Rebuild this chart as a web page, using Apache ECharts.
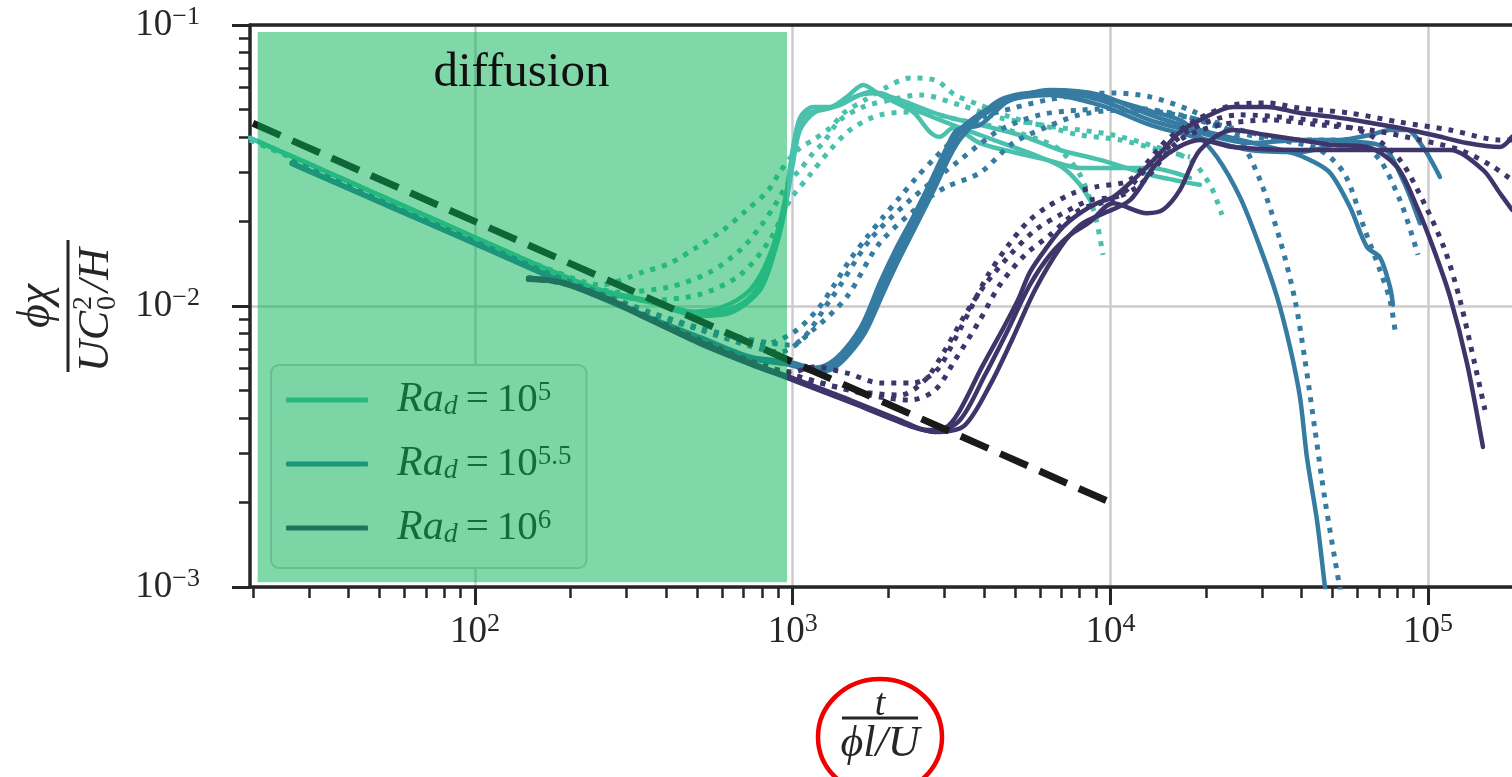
<!DOCTYPE html>
<html>
<head>
<meta charset="utf-8">
<title>diffusion</title>
<script src="https://cdn.jsdelivr.net/npm/echarts@6/dist/echarts.min.js"></script>
<style>
  html, body { margin: 0; padding: 0; background: #fff; }
  #chart { width: 1512px; height: 777px; }
</style>
</head>
<body>
<div id="chart"></div>
<script>
// axis ranges and ticks
const xRange = [19.58, 183700]
const yRange = [0.001, 0.1]
const xMajor = [100, 1000, 10000, 100000]
const xMinor = [20, 30, 40, 50, 60, 70, 80, 90, 200, 300, 400, 500, 600, 700, 800, 900,
  2000, 3000, 4000, 5000, 6000, 7000, 8000, 9000, 20000, 30000, 40000, 50000, 60000, 70000, 80000, 90000]
const yMajor = [0.001, 0.01, 0.1]
const yMinor = [0.002, 0.003, 0.004, 0.005, 0.006, 0.007, 0.008, 0.009,
  0.02, 0.03, 0.04, 0.05, 0.06, 0.07, 0.08, 0.09]

// shaded diffusion span [x0, x1, y0, y1] and its label position
const diffusionSpan = [20.7, 960, 0.00104, 0.0944]
const diffusionLabelAt = [140, 0.0675]

// reference slope line
const refLine = [[20, 0.0447], [10000, 0.002]]

// Ra_d = 10^5
const ra5SolidA = [[19.6, 0.0396], [28.1, 0.0331], [40.4, 0.0276], [58.1, 0.023], [83.4, 0.0192], [120, 0.016],
  [172, 0.0134], [247.5, 0.0114], [356, 0.0104], [511, 0.00945],
  [591, 0.00953], [718, 0.0105], [830, 0.0134], [912, 0.0194], [959, 0.0259], [1000, 0.0359], [1054, 0.0467],
  [1159, 0.0511], [1311, 0.0511], [1482, 0.0555], [1665, 0.0612], [1883, 0.0564], [2391, 0.049], [2705, 0.0416],
  [2908, 0.04], [3196, 0.043], [3886, 0.038], [4936, 0.0353], [6315, 0.0331], [8022, 0.031], [10190, 0.031],
  [13323, 0.031], [17803, 0.0286]]
const ra5SolidB = [[19.6, 0.0396], [28.1, 0.0331], [40.4, 0.0276], [58.1, 0.023], [83.4, 0.0192], [120, 0.016],
  [172, 0.0134], [247.5, 0.0113], [356, 0.0103], [511, 0.00922],
  [635, 0.00945], [789, 0.0114], [880, 0.0158], [946, 0.022], [1000, 0.0318], [1054, 0.0423], [1176, 0.049],
  [1409, 0.0519], [1751, 0.0578], [2176, 0.0541], [2908, 0.0479], [3886, 0.0441], [5193, 0.0406], [6939, 0.0359],
  [9273, 0.0331], [13323, 0.0293], [19142, 0.027]]
const ra5SolidC = [[19.6, 0.0396], [28.1, 0.0331], [40.4, 0.0276], [58.1, 0.023], [83.4, 0.0192], [120, 0.016],
  [172, 0.0134], [247.5, 0.0114], [331, 0.0106], [475, 0.00953],
  [591, 0.00984], [734, 0.0114], [848, 0.0152], [946, 0.0238], [1017, 0.039], [1093, 0.0479], [1311, 0.0506],
  [1629, 0.0564], [1883, 0.0573], [2176, 0.0528], [2908, 0.0459], [3886, 0.0406], [6003, 0.0339], [7092, 0.031],
  [8022, 0.027], [8751, 0.0232]]
const ra5DotA = [[19.6, 0.039], [28.1, 0.0328], [40.4, 0.0274], [58.1, 0.0229], [83.4, 0.0191], [120, 0.0159],
  [172, 0.0135], [247.5, 0.0119], [338, 0.0132], [411, 0.0142],
  [500, 0.0162], [603, 0.0186], [718, 0.022], [830, 0.0255], [912, 0.03], [981, 0.0336], [1054, 0.0365],
  [1159, 0.039], [1311, 0.043], [1461, 0.049], [1689, 0.0541], [1953, 0.0597], [2340, 0.0648], [2805, 0.0637],
  [3243, 0.0564], [3886, 0.0519], [4936, 0.0467], [6315, 0.0437], [8022, 0.0423], [10190, 0.0406],
  [13323, 0.0374], [17803, 0.0331], [20580, 0.027], [22450, 0.0211]]
const ra5DotB = [[19.6, 0.039], [28.1, 0.0328], [40.4, 0.0274], [58.1, 0.0229], [83.4, 0.0191], [120, 0.0159],
  [172, 0.0134], [286, 0.0112], [411, 0.0117], [549, 0.0132],
  [683, 0.0158], [789, 0.0191], [880, 0.0229], [981, 0.0281], [1054, 0.0305], [1159, 0.035], [1246, 0.038],
  [1409, 0.0459], [1665, 0.0511], [2024, 0.0541], [2516, 0.0564], [3362, 0.0519], [4492, 0.0467], [6003, 0.0441],
  [8022, 0.0406], [10720, 0.039], [14325, 0.0359], [17803, 0.0339]]
const ra5DotC = [[19.6, 0.039], [28.1, 0.0328], [40.4, 0.0274], [58.1, 0.0229], [83.4, 0.0191], [120, 0.0159],
  [172, 0.0133], [247.5, 0.0113], [356, 0.0105], [511, 0.011], [683, 0.0129],
  [848, 0.0172], [981, 0.0238], [1134, 0.0293], [1311, 0.0359], [1515, 0.0423], [1883, 0.0479], [2516, 0.049],
  [3362, 0.0459], [4492, 0.043], [6003, 0.039], [6939, 0.0359], [8022, 0.0293], [8944, 0.0211], [9477, 0.0152]]

// Ra_d = 10^5.5
const ra55SolidA = [[26.5, 0.0323], [40.4, 0.0262], [58.1, 0.0219], [83.4, 0.0183], [120, 0.0153], [172, 0.0128],
  [247.5, 0.0108], [356, 0.0091], [511, 0.00775], [735, 0.0066], [981, 0.00632],
  [1159, 0.00602], [1311, 0.00627], [1482, 0.00715], [1665, 0.0087], [1883, 0.0121], [2129, 0.0162], [2391, 0.0207],
  [2705, 0.0274], [3059, 0.0368], [3290, 0.0423], [3886, 0.0441], [4395, 0.0498], [4936, 0.055], [6315, 0.0578],
  [8022, 0.0573], [10190, 0.0541], [13037, 0.0498], [16559, 0.0459], [18195, 0.0423], [21650, 0.0339],
  [25578, 0.0244], [29567, 0.0162], [33443, 0.0108], [36748, 0.00715], [39510, 0.00474], [41565, 0.00289],
  [44689, 0.00173], [47362, 0.001], [48400, 0.00083]]
const ra55SolidB = [[26.5, 0.0323], [40.4, 0.0262], [58.1, 0.0219], [83.4, 0.0183], [120, 0.0153], [172, 0.0128],
  [247.5, 0.0108], [356, 0.009], [511, 0.0077], [735, 0.00655], [981, 0.00622],
  [1176, 0.00587], [1330, 0.00612], [1493, 0.00692], [1677, 0.00835], [1897, 0.0115], [2145, 0.0155], [2409, 0.0199],
  [2725, 0.0263], [3082, 0.0353], [3362, 0.0413], [4492, 0.0519], [6454, 0.0587], [9273, 0.0564], [13323, 0.0479],
  [19142, 0.0423], [27500, 0.0383], [37557, 0.035], [42480, 0.0331], [49105, 0.0298], [56764, 0.0225],
  [64204, 0.0162], [70549, 0.0149], [75852, 0.0117], [77521, 0.0101]]
const ra55SolidC = [[26.5, 0.032], [40.4, 0.026], [58.1, 0.0217], [83.4, 0.0182], [120, 0.0152], [172, 0.0127],
  [247.5, 0.0107], [356, 0.009], [511, 0.00768], [735, 0.0065], [981, 0.00617],
  [1193, 0.00582], [1350, 0.00602], [1515, 0.0068], [1701, 0.00815], [1925, 0.0111], [2176, 0.0149], [2444, 0.0193],
  [2765, 0.0255], [3127, 0.0342], [3411, 0.04], [4492, 0.0541], [6454, 0.0578], [9273, 0.0541], [13323, 0.0459],
  [19142, 0.0413], [27500, 0.038], [39510, 0.039], [52796, 0.039], [65617, 0.0406], [75852, 0.0423],
  [85794, 0.0423], [96346, 0.0368], [108975, 0.0288]]
const ra55SolidD = [[26.5, 0.0321], [40.4, 0.0261], [58.1, 0.0218], [83.4, 0.0182], [120, 0.0152], [172, 0.0127],
  [247.5, 0.0107], [356, 0.009], [511, 0.0077], [735, 0.00652], [981, 0.0062],
  [1170, 0.00595], [1320, 0.0062], [1490, 0.00705], [1670, 0.0086], [1890, 0.0119], [2140, 0.016], [2400, 0.0203],
  [2715, 0.027], [3070, 0.036], [3300, 0.0418], [4492, 0.0528], [6454, 0.0564], [9273, 0.0519], [13323, 0.0441],
  [19142, 0.0396], [27500, 0.0359], [39510, 0.0353], [56764, 0.0383], [72101, 0.0368], [83347, 0.0281],
  [94272, 0.0197]]
const ra55DotA = [[26.5, 0.0328], [40.4, 0.0265], [58.1, 0.022], [83.4, 0.0185], [120, 0.0155], [172, 0.013],
  [247.5, 0.0111], [356, 0.0095], [511, 0.00835], [789, 0.00727], [1000, 0.00802],
  [1193, 0.00968], [1340, 0.0117], [1515, 0.0146], [1714, 0.0176], [1925, 0.0207], [2176, 0.0244], [2462, 0.0288],
  [2765, 0.0331], [3127, 0.038], [3537, 0.0423], [3972, 0.0471], [4936, 0.0506], [6315, 0.0541], [8022, 0.0564],
  [10190, 0.0573], [13323, 0.0555], [17803, 0.0498], [22127, 0.0441], [25578, 0.039], [29567, 0.0281],
  [34179, 0.0172], [38108, 0.0105], [40972, 0.00642], [44052, 0.00362], [47362, 0.00204], [50922, 0.00125],
  [53567, 0.0009]]
const ra55DotB = [[26.5, 0.0328], [40.4, 0.0265], [58.1, 0.022], [83.4, 0.0185], [120, 0.0155], [172, 0.013],
  [247.5, 0.0111], [356, 0.0094], [511, 0.00822], [735, 0.0072], [912, 0.00686], [1159, 0.00822],
  [1482, 0.0108], [1883, 0.0168], [2705, 0.0244], [3059, 0.0266], [3886, 0.0298], [4936, 0.038], [6315, 0.0434],
  [8022, 0.0479], [10720, 0.0498], [14325, 0.049], [19142, 0.0459], [25578, 0.0423], [34179, 0.039],
  [45672, 0.0359], [54749, 0.0293], [63288, 0.0186], [70549, 0.0134], [75852, 0.0105], [78659, 0.00822]]
const ra55DotC = [[26.5, 0.0328], [40.4, 0.0265], [58.1, 0.022], [83.4, 0.0185], [120, 0.0155], [172, 0.013],
  [247.5, 0.0111], [356, 0.0093], [591, 0.00802], [981, 0.00727], [1311, 0.0105], [1751, 0.0172],
  [2340, 0.0238], [3362, 0.0331], [4492, 0.0423], [6003, 0.0479], [8022, 0.0498], [11526, 0.0506], [16559, 0.0479],
  [23790, 0.0423], [34179, 0.039], [49105, 0.039], [61030, 0.0374], [70549, 0.0331], [81553, 0.0238],
  [88962, 0.0179], [92917, 0.0152]]

// Ra_d = 10^6
const ra6SolidA = [[146.9, 0.0126], [185.2, 0.0122], [260.4, 0.0107], [356, 0.009], [511, 0.00745], [735, 0.0063],
  [1000, 0.00554], [1515, 0.00463],
  [2176, 0.00393], [2647, 0.00362], [3016, 0.00368], [3338, 0.0042], [3943, 0.00607], [4624, 0.00842],
  [5118, 0.0105], [5583, 0.0132], [6315, 0.0162], [7092, 0.0191], [8022, 0.0214], [9074, 0.0232], [10190, 0.0244],
  [11526, 0.0274], [13037, 0.0313], [14640, 0.0359], [16559, 0.0416], [19142, 0.0459], [24313, 0.0511],
  [31105, 0.0511], [39510, 0.0486], [50186, 0.0471], [64204, 0.0451], [81553, 0.043], [103587, 0.0406],
  [132523, 0.038], [168331, 0.0368], [183624, 0.04]]
const ra6SolidB = [[146.9, 0.0124], [185.2, 0.0121], [260.4, 0.0105], [356, 0.0089], [511, 0.00733], [735, 0.0062],
  [1000, 0.00545], [1515, 0.00455], [2176, 0.00387],
  [2805, 0.00356], [3362, 0.00393], [4030, 0.00568], [4760, 0.00822], [5583, 0.0119], [6454, 0.0152],
  [7461, 0.0179], [8625, 0.0199], [10190, 0.0232], [13037, 0.0214], [14640, 0.022], [16559, 0.0259],
  [19142, 0.0359], [24313, 0.0423], [31105, 0.0406], [39510, 0.039], [50186, 0.0374], [64204, 0.0368],
  [79796, 0.0313], [92241, 0.0225], [103587, 0.0162], [117166, 0.0108], [132523, 0.00627], [148823, 0.00315]]
const ra6SolidC = [[146.9, 0.0125], [185.2, 0.0121], [260.4, 0.0106], [356, 0.0089], [511, 0.00739], [735, 0.00625],
  [1000, 0.00549], [1515, 0.0046], [2340, 0.00374],
  [2908, 0.00356], [3486, 0.00377], [4178, 0.00523], [4900, 0.00757], [5790, 0.0114], [6939, 0.0161],
  [8022, 0.0194], [9273, 0.0211], [11526, 0.0238], [14325, 0.0331], [19142, 0.039], [24313, 0.0368],
  [39510, 0.0359], [81553, 0.0359], [117166, 0.0359], [148823, 0.0305], [168331, 0.0252], [183624, 0.022]]
const ra6DotA = [[146.9, 0.0126], [185.2, 0.0122], [260.4, 0.0107], [356, 0.0091], [511, 0.00757], [735, 0.0064],
  [1000, 0.00582], [1159, 0.00607], [1482, 0.00577],
  [1883, 0.00532], [2391, 0.00532], [2846, 0.00592], [3196, 0.00739], [3614, 0.00968], [4088, 0.0127],
  [4726, 0.0162], [5463, 0.0198], [6315, 0.0225], [7625, 0.0252], [9074, 0.0266], [11526, 0.0281],
  [15070, 0.039], [19142, 0.0467], [24313, 0.0519], [31105, 0.0528], [39510, 0.0506], [56764, 0.0486],
  [81553, 0.0451], [117166, 0.0423], [168331, 0.039], [183624, 0.039]]
const ra6DotB = [[146.9, 0.0125], [185.2, 0.0121], [260.4, 0.0107], [356, 0.009], [511, 0.00751], [735, 0.0063],
  [1000, 0.00568], [1515, 0.00502], [2176, 0.00482],
  [2609, 0.00545], [3016, 0.00697], [3486, 0.00929], [4030, 0.0119], [4830, 0.0152], [5790, 0.0186],
  [6939, 0.0211], [8625, 0.0238], [10720, 0.0248], [13323, 0.0318], [17803, 0.0423], [25578, 0.0479],
  [36748, 0.0467], [52796, 0.0441], [65617, 0.0406], [81553, 0.0331], [97760, 0.0229], [113007, 0.0158],
  [125972, 0.0105], [140451, 0.00617], [151007, 0.00427]]
const ra6DotC = [[146.9, 0.0125], [185.2, 0.0121], [260.4, 0.0107], [356, 0.009], [511, 0.00751], [735, 0.0063],
  [1000, 0.00568], [1751, 0.00482], [2340, 0.00463],
  [2805, 0.00502], [3243, 0.00642], [3886, 0.00892], [4492, 0.0119], [5385, 0.0152], [6454, 0.0179],
  [8022, 0.022], [9970, 0.0238], [12392, 0.027], [16559, 0.039], [22127, 0.0441], [31790, 0.0459],
  [45672, 0.0441], [65617, 0.0423], [94272, 0.039], [125972, 0.0359], [156564, 0.0318], [183624, 0.0281]]

const legendNames = ['Ra5', 'Ra55', 'Ra6']
const legendExps = { Ra5: '5', Ra55: '5.5', Ra6: '6' }
const colorMap = { Ra5: '#49c1ad', Ra55: '#357ba2', Ra6: '#3e356b' }

const serif = "'Liberation Serif', 'DejaVu Serif', serif"
const ink = '#262626'

function curve(name, data, dotted) {
  return {
    type: 'line',
    name: name,
    data: data,
    showSymbol: false,
    symbol: 'none',
    smooth: 0.3,
    silent: true,
    emphasis: { disabled: true },
    itemStyle: { color: colorMap[name] },
    lineStyle: {
      color: colorMap[name],
      width: dotted ? 5 : 4.5,
      type: dotted ? [5, 7] : 'solid',
      cap: dotted ? 'butt' : 'round'
    },
    z: 2
  }
}

function powLabel(v) {
  const e = Math.round(Math.log10(v))
  return '{b|10}{e|' + (e < 0 ? '\u2212' + (-e) : e) + '}'
}

const tickRich = {
  b: { fontFamily: serif, fontSize: 37, color: ink, lineHeight: 42 },
  e: { fontFamily: serif, fontSize: 26, color: ink, lineHeight: 26, verticalAlign: 'top' }
}

const axisBase = {
  type: 'log',
  logBase: 10,
  axisLine: { show: false },
  axisTick: { show: false },
  axisLabel: { show: false },
  splitLine: { show: false }
}

const chart = echarts.init(document.getElementById('chart'), null, { renderer: 'canvas' })

const series = [
  curve('Ra5', ra5SolidA, false), curve('Ra5', ra5SolidB, false), curve('Ra5', ra5SolidC, false),
  curve('Ra5', ra5DotA, true), curve('Ra5', ra5DotB, true), curve('Ra5', ra5DotC, true),
  curve('Ra55', ra55SolidA, false), curve('Ra55', ra55SolidB, false), curve('Ra55', ra55SolidC, false),
  curve('Ra55', ra55SolidD, false),
  curve('Ra55', ra55DotA, true), curve('Ra55', ra55DotB, true), curve('Ra55', ra55DotC, true),
  curve('Ra6', ra6SolidA, false), curve('Ra6', ra6SolidB, false), curve('Ra6', ra6SolidC, false),
  curve('Ra6', ra6DotA, true), curve('Ra6', ra6DotB, true), curve('Ra6', ra6DotC, true),
  {
    type: 'line',
    name: 'ref',
    data: refLine,
    showSymbol: false,
    symbol: 'none',
    silent: true,
    emphasis: { disabled: true },
    lineStyle: { color: '#1a1a1a', width: 7, type: [30, 13], cap: 'butt' },
    z: 3
  },
  {
    // green span drawn over the curves and the legend
    type: 'custom',
    name: 'span',
    silent: true,
    z: 10,
    encode: { x: [0, 1], y: [2, 3] },
    data: [diffusionSpan.concat(diffusionLabelAt)],
    renderItem: function (params, api) {
      const p0 = api.coord([api.value(0), api.value(3)])
      const p1 = api.coord([api.value(1), api.value(2)])
      const pt = api.coord([api.value(4), api.value(5)])
      return {
        type: 'group',
        children: [
          {
            type: 'rect',
            shape: { x: p0[0], y: p0[1], width: p1[0] - p0[0], height: p1[1] - p0[1] },
            style: { fill: 'rgba(1,177,81,0.5)' }
          },
          {
            type: 'text',
            x: pt[0],
            y: pt[1],
            z2: 5,
            style: { text: 'diffusion', font: '49px ' + serif, fill: '#111', align: 'center', verticalAlign: 'middle' }
          }
        ]
      }
    }
  }
]

chart.setOption({
  animation: false,
  backgroundColor: '#ffffff',
  grid: { left: 250, top: 25, right: 0, bottom: 190, containLabel: false },
  xAxis: [
    Object.assign({}, axisBase, {
      min: xRange[0], max: xRange[1], position: 'bottom',
      axisLine: { show: true, lineStyle: { color: ink, width: 3.5 } },
      axisTick: { show: true, customValues: xMajor, length: 18, lineStyle: { color: ink, width: 3 } },
      axisLabel: { show: true, customValues: xMajor, margin: 24, formatter: powLabel, rich: tickRich },
      splitLine: { show: true, lineStyle: { color: '#cccccc', width: 2.5 } }
    }),
    Object.assign({}, axisBase, {
      min: xRange[0], max: xRange[1], position: 'bottom',
      axisTick: { show: true, customValues: xMinor, length: 11, lineStyle: { color: ink, width: 2.5 } }
    }),
    Object.assign({}, axisBase, {
      min: xRange[0], max: xRange[1], position: 'top',
      axisLine: { show: true, lineStyle: { color: ink, width: 3.5 } }
    })
  ],
  yAxis: [
    Object.assign({}, axisBase, {
      min: yRange[0], max: yRange[1], position: 'left',
      axisLine: { show: true, lineStyle: { color: ink, width: 3.5 } },
      axisTick: { show: true, customValues: yMajor, length: 18, lineStyle: { color: ink, width: 3 } },
      axisLabel: { show: true, customValues: yMajor, margin: 50, formatter: powLabel, rich: tickRich },
      splitLine: { show: true, lineStyle: { color: '#cccccc', width: 2.5 } }
    }),
    Object.assign({}, axisBase, {
      min: yRange[0], max: yRange[1], position: 'left',
      axisTick: { show: true, customValues: yMinor, length: 11, lineStyle: { color: ink, width: 2.5 } }
    })
  ],
  legend: {
    data: legendNames,
    orient: 'vertical',
    left: 271,
    top: 365,
    icon: 'roundRect',
    itemWidth: 82,
    itemHeight: 5,
    itemGap: 22,
    padding: [14, 15, 19, 15],
    backgroundColor: '#f6f8f7',
    borderColor: '#cccccc',
    borderWidth: 2,
    borderRadius: 8,
    selectedMode: false,
    formatter: function (name) {
      return '{g|}{i|Ra}{d|d}{n|=}{m|10}{p|' + legendExps[name] + '}'
    },
    textStyle: {
      color: ink,
      rich: {
        g: { width: 24, lineHeight: 42 },
        i: { fontFamily: serif, fontStyle: 'italic', fontSize: 42, color: ink, lineHeight: 42 },
        d: { fontFamily: serif, fontStyle: 'italic', fontSize: 28, color: ink, lineHeight: 22, verticalAlign: 'bottom' },
        n: { fontFamily: serif, fontSize: 41, color: ink, lineHeight: 42, padding: [0, 8, 0, 8] },
        m: { fontFamily: serif, fontSize: 41, color: ink, lineHeight: 42 },
        p: { fontFamily: serif, fontSize: 27, color: ink, lineHeight: 26, verticalAlign: 'top' }
      }
    }
  },
  graphic: [
    {
      // y axis title, a fraction turned on its side
      type: 'group',
      x: 68,
      y: 306,
      rotation: Math.PI / 2,
      children: [
        { type: 'line', shape: { x1: -66, y1: 0, x2: 66, y2: 0 }, style: { stroke: ink, lineWidth: 3 } },
        { type: 'text', x: 0, y: -8, style: { text: '\u03d5\u03c7', font: 'italic 46px ' + serif, fill: ink, align: 'center', verticalAlign: 'bottom' } },
        { type: 'text', x: -66, y: 6, style: { text: 'UC', font: 'italic 44px ' + serif, fill: ink, align: 'left', verticalAlign: 'top' } },
        { type: 'text', x: -4, y: 2, style: { text: '2', font: '28px ' + serif, fill: ink, align: 'left', verticalAlign: 'top' } },
        { type: 'text', x: -4, y: 26, style: { text: '0', font: '28px ' + serif, fill: ink, align: 'left', verticalAlign: 'top' } },
        { type: 'text', x: 14, y: 6, style: { text: '/H', font: 'italic 44px ' + serif, fill: ink, align: 'left', verticalAlign: 'top' } }
      ]
    },
    {
      // x axis title with its red ring
      type: 'group',
      x: 880,
      y: 718,
      children: [
        { type: 'ellipse', shape: { cx: 0, cy: 19, rx: 62, ry: 58 }, style: { fill: 'none', stroke: '#f00000', lineWidth: 4.5 } },
        { type: 'line', shape: { x1: -38, y1: 0, x2: 38, y2: 0 }, style: { stroke: ink, lineWidth: 3 } },
        { type: 'text', x: 0, y: 6, style: { text: 't', font: 'italic 38px ' + serif, fill: ink, align: 'center', verticalAlign: 'bottom' } },
        { type: 'text', x: 0, y: 4, style: { text: '\u03d5l/U', font: 'italic 44px ' + serif, fill: ink, align: 'center', verticalAlign: 'top' } }
      ]
    }
  ],
  series: series
})
</script>
</body>
</html>
